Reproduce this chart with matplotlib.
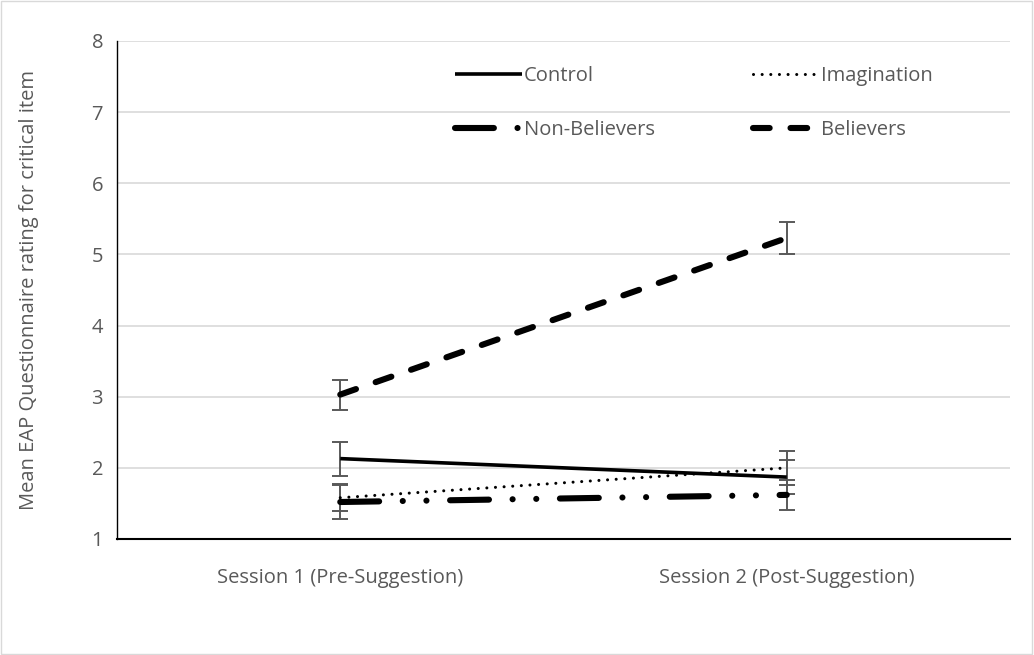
import matplotlib.pyplot as plt
import numpy as np

sessions = ["Session 1 (Pre-Suggestion)", "Session 2 (Post-Suggestion)"]

control = [2.13, 1.87]
control_err = [0.24, 0.24]
imagination = [1.58, 2.00]
imagination_err = [0.19, 0.24]
non_believers = [1.52, 1.62]
non_believers_err = [0.24, 0.21]
believers = [3.03, 5.23]
believers_err = [0.21, 0.22]

grey = "#595959"
fs = 14.5
plt.rcParams['font.family'] = ['Open Sans', 'DejaVu Sans']

fig = plt.figure(figsize=(10.34, 6.55), dpi=100)
ax = fig.add_axes([117 / 1034, 1 - 539 / 655, 893 / 1034, 498 / 655])

x = np.array([0.5, 1.5])

def draw(vals, errs, label, **kw):
    ax.errorbar(x, vals, yerr=errs, ecolor=grey, elinewidth=1.4, capsize=5.5,
                capthick=1.4, zorder=2, linestyle='none')
    line, = ax.plot(x, vals, color="black", label=label, zorder=3, **kw)
    return line

lw_c = 2.6
h_c = draw(control, control_err, "Control", lw=lw_c, solid_capstyle='butt')
lw_i = 2.2
h_i = draw(imagination, imagination_err, "Imagination", lw=lw_i,
           dashes=(0.01, 6.2 / lw_i), dash_capstyle='round')
lw_n = 4.4
h_n = draw(non_believers, non_believers_err, "Non-Believers", lw=lw_n,
           dashes=(28 / lw_n, 17 / lw_n, 0.01, 17 / lw_n, 0.01, 17 / lw_n),
           dash_capstyle='round')
lw_b = 4.4
h_b = draw(believers, believers_err, "Believers", lw=lw_b,
           dashes=(12 / lw_b, 15 / lw_b), dash_capstyle='round')

ax.set_xlim(0, 2)
ax.set_ylim(1, 8)
ax.set_xticks(x)
ax.set_xticklabels(sessions)
ax.set_yticks(range(1, 9))
ax.tick_params(axis='both', length=0, labelsize=fs, colors=grey, pad=10)
ax.tick_params(axis='x', pad=21)
ax.grid(axis='y', color="#d9d9d9", lw=1.2, zorder=0)
ax.set_axisbelow(True)
for s in ['top', 'right']:
    ax.spines[s].set_visible(False)
ax.spines['left'].set_color("black")
ax.spines['bottom'].set_color("black")
ax.spines['left'].set_linewidth(1.0)
ax.spines['bottom'].set_linewidth(1.5)

ax.set_ylabel("Mean EAP Questionnaire rating for critical item",
              fontsize=fs, color=grey, labelpad=38)

# row-major order: Control, Imagination / Non-Believers, Believers
leg = ax.legend([h_c, h_n, h_i, h_b], ["Control", "Non-Believers", "Imagination", "Believers"],
                ncol=2, loc='upper left', bbox_to_anchor=(0.37, 0.966),
                frameon=False, fontsize=fs, handlelength=3.3,
                handletextpad=0.1, columnspacing=4.85, labelspacing=1.7,
                borderaxespad=0)
for t in leg.get_texts():
    t.set_color(grey)

fig.patches.append(plt.Rectangle((0.001, 0.001), 0.997, 0.997, transform=fig.transFigure,
                                 fill=False, edgecolor="#d9d9d9", lw=1))

fig.savefig("out.png", dpi=100)
